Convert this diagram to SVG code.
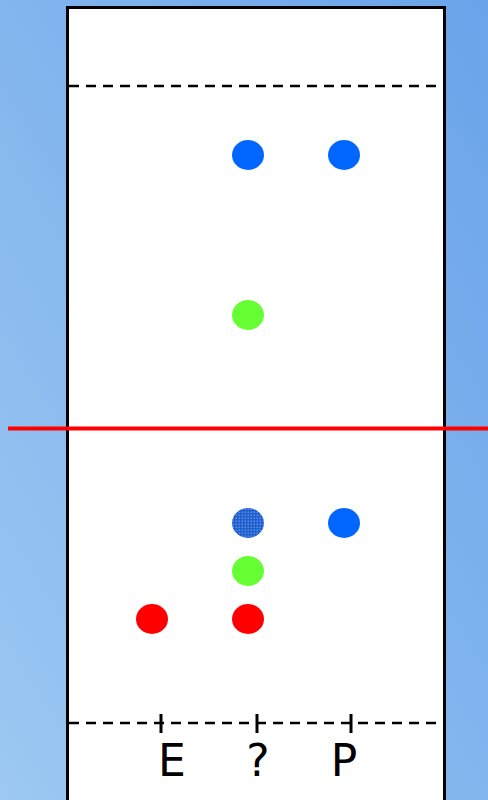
<svg xmlns="http://www.w3.org/2000/svg" width="488" height="800" viewBox="0 0 488 800">
<defs>
<linearGradient id="bg" x1="0" y1="1" x2="1" y2="0">
<stop offset="0" stop-color="#9cc8f2"/>
<stop offset="1" stop-color="#6aa3ea"/>
</linearGradient>
<pattern id="hatch" width="3" height="3" patternUnits="userSpaceOnUse">
<rect width="3" height="3" fill="#5b8fe0"/>
<rect width="1.5" height="3" fill="#1f5fd0"/>
<rect width="3" height="1.5" fill="#1f5fd0"/>
</pattern>
</defs>
<style>
.dash{stroke:#000;stroke-width:2.5;stroke-dasharray:10,7;fill:none}
.tick{stroke:#000;stroke-width:3}
.blue{fill:#0066ff}
.green{fill:#66ff33}
.red{fill:#ff0000}
.lbl{font-family:"DejaVu Sans",sans-serif;font-size:44px;fill:#000;text-anchor:middle}
</style>
<rect width="488" height="800" fill="url(#bg)"/>
<rect id="field" x="67.5" y="7.5" width="377" height="800" fill="#fff" stroke="#000" stroke-width="3"/>
<g id="connectors">
<line class="dash" x1="69" y1="86" x2="443" y2="86"/>
<line class="dash" x1="69" y1="723" x2="443" y2="723"/>
<line x1="8" y1="428.5" x2="488" y2="428.5" stroke="#ff0000" stroke-width="4"/>
<line class="tick" x1="161" y1="714" x2="161" y2="733"/>
<line class="tick" x1="257" y1="714" x2="257" y2="733"/>
<line class="tick" x1="351" y1="714" x2="351" y2="733"/>
</g>
<g id="n1"><ellipse class="blue" cx="248" cy="155" rx="16" ry="15"/></g>
<g id="n2"><ellipse class="blue" cx="344" cy="155" rx="16" ry="15"/></g>
<g id="n3"><ellipse class="green" cx="248" cy="315" rx="16" ry="15"/></g>
<g id="n4"><ellipse cx="248" cy="523" rx="16" ry="15" fill="url(#hatch)"/></g>
<g id="n5"><ellipse class="blue" cx="344" cy="523" rx="16" ry="15"/></g>
<g id="n6"><ellipse class="green" cx="248" cy="571" rx="16" ry="15"/></g>
<g id="n7"><ellipse class="red" cx="152" cy="619" rx="16" ry="15"/></g>
<g id="n8"><ellipse class="red" cx="248" cy="619" rx="16" ry="15"/></g>
<g id="labels">
<text class="lbl" x="172" y="776">E</text>
<text class="lbl" x="258" y="776">?</text>
<text class="lbl" x="344" y="776">P</text>
</g>
</svg>
